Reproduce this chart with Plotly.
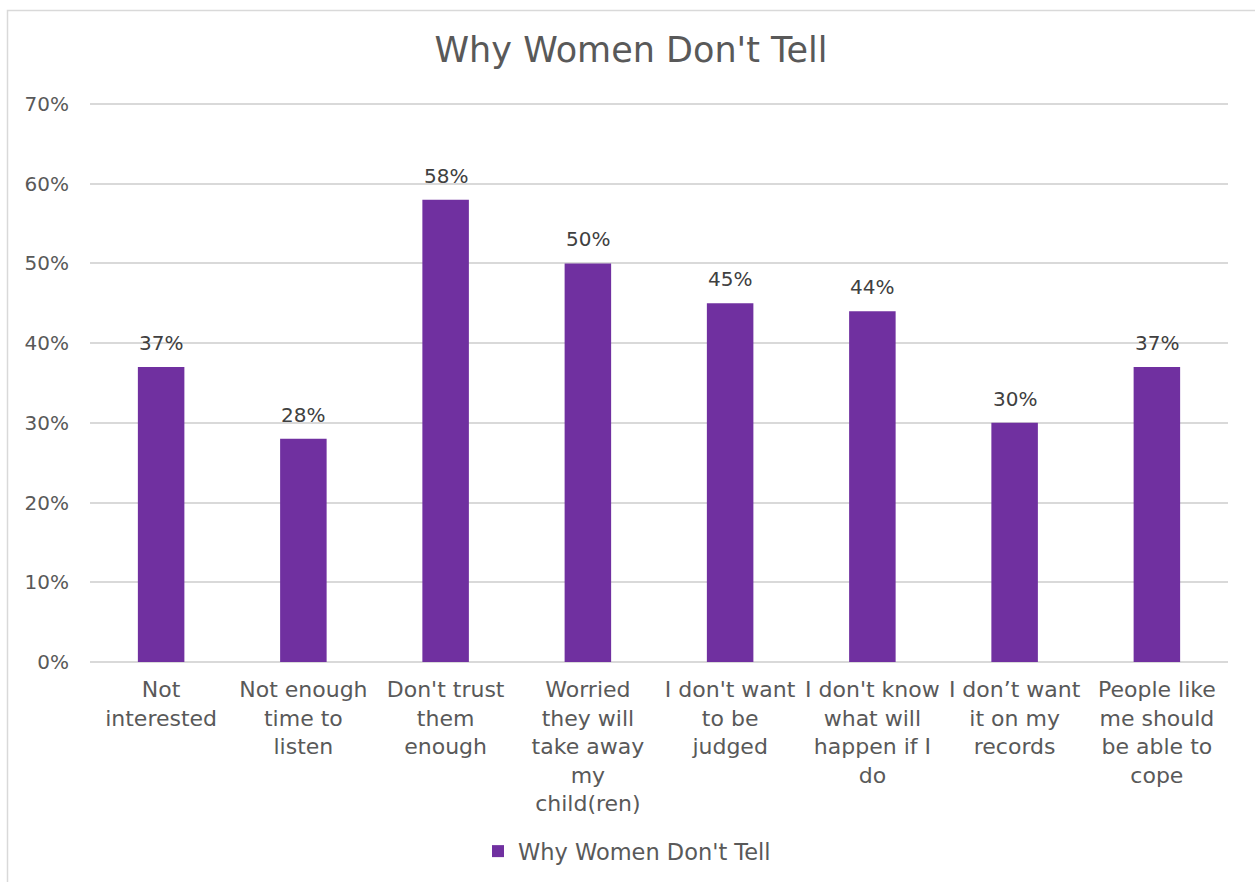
import plotly.graph_objects as go

# Survey results: reasons women give for not disclosing
categories = [
    "Not<br>interested",
    "Not enough<br>time to<br>listen",
    "Don't trust<br>them<br>enough",
    "Worried<br>they will<br>take away<br>my<br>child(ren)",
    "I don't want<br>to be<br>judged",
    "I don't know<br>what will<br>happen if I<br>do",
    "I don\u2019t want<br>it on my<br>records",
    "People like<br>me should<br>be able to<br>cope",
]
values = [0.37, 0.28, 0.58, 0.50, 0.45, 0.44, 0.30, 0.37]
series_name = "Why Women Don't Tell"
tick_values = [0, 0.1, 0.2, 0.3, 0.4, 0.5, 0.6, 0.7]
tick_labels = ["0%", "10%", "20%", "30%", "40%", "50%", "60%", "70%"]

W, H = 1255, 882
ML, MR, MT, MB = 90, 27, 102, 220
PW, PH = W - ML - MR, H - MT - MB
# leave a little headroom so the top gridline is drawn
Y_MAX = 0.7 * PH / (PH - 2)

FONT = "DejaVu Sans"
BAR = "#7030A0"
TXT = "#595959"
GRID = "#D9D9D9"

fig = go.Figure(
    go.Bar(
        x=categories,
        y=values,
        name=series_name,
        marker=dict(color=BAR, line=dict(width=0)),
        hoverinfo="skip",
    )
)

# value labels sitting above each bar
for cat, v in zip(categories, values):
    fig.add_annotation(
        x=cat,
        y=v,
        text=f"{round(v * 100)}%",
        showarrow=False,
        yanchor="bottom",
        yshift=10,
        font=dict(family=FONT, size=20, color="#404040"),
    )


def px_x(p):
    return (p - ML) / PW


def px_y(p):
    return (H - MB - p) / PH


fig.update_layout(
    width=W,
    height=H,
    margin=dict(l=ML, r=MR, t=MT, b=MB, autoexpand=False),
    paper_bgcolor="white",
    plot_bgcolor="white",
    bargap=0.673,
    title=dict(
        text=series_name,
        x=631 / W,
        xanchor="center",
        y=1 - 50 / H,
        yanchor="middle",
        font=dict(family=FONT, size=35, color=TXT),
    ),
    showlegend=True,
    legend=dict(
        orientation="h",
        x=px_x(478),
        xanchor="left",
        y=px_y(830),
        yanchor="top",
        font=dict(family=FONT, size=22.5, color=TXT),
        itemclick=False,
        itemdoubleclick=False,
    ),
    xaxis=dict(
        showgrid=False,
        showline=False,
        ticks="",
        ticklabelstandoff=12,
        tickfont=dict(family=FONT, size=22, color=TXT),
        fixedrange=True,
    ),
    yaxis=dict(
        range=[0, Y_MAX],
        tickvals=tick_values,
        ticktext=tick_labels,
        showgrid=True,
        gridcolor=GRID,
        gridwidth=1.5,
        zeroline=True,
        zerolinecolor=GRID,
        zerolinewidth=1.5,
        showline=False,
        ticks="",
        ticklabelstandoff=20,
        tickfont=dict(family=FONT, size=20, color=TXT),
        fixedrange=True,
    ),
    shapes=[
        dict(
            type="rect",
            xref="paper",
            yref="paper",
            x0=px_x(7.5),
            x1=px_x(1320),
            y0=px_y(960),
            y1=px_y(10.5),
            line=dict(color=GRID, width=1.5),
            fillcolor="rgba(0,0,0,0)",
            layer="below",
        )
    ],
)

fig.write_html("out.html")
